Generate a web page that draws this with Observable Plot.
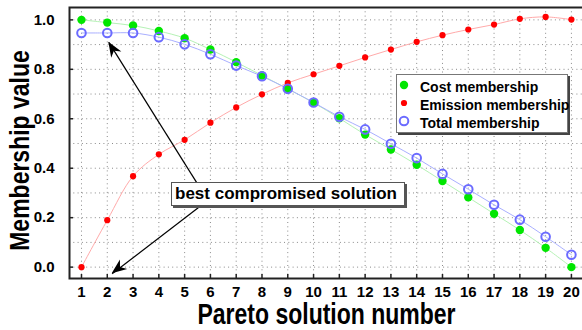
<!DOCTYPE html>
<html>
<head>
<meta charset="utf-8">
<script src="https://cdn.jsdelivr.net/npm/d3@7"></script>
<script src="https://cdn.jsdelivr.net/npm/@observablehq/plot@0.6"></script>
<style>
  body { margin: 0; background: #fff; font-family: "Liberation Sans", Arial, sans-serif; }
  #chart { position: relative; width: 582px; height: 330px; overflow: hidden; }
  #chart svg { position: absolute; left: 0; top: 0; }
  .legend { position: absolute; left: 396px; top: 74px; width: 170px; height: 57px;
            border: 1px solid #777; box-shadow: 2px 2px 0 #444; background: #fff;
            font-weight: bold; font-size: 14px; color: #000; }
  .legend .row { position: absolute; left: 0; height: 18px; line-height: 18px; white-space: nowrap; }
  .legend svg { position: absolute; left: 3px; top: 2px; }
  .legend span { position: absolute; left: 23px; top: 0; }
  .note { position: absolute; left: 171px; top: 182px; width: 229px; height: 22px;
          border: 1px solid #555; box-shadow: 2px 2px 0 #555; background: #fff;
          font-weight: bold; font-size: 17px; line-height: 22px; padding-left: 3px; box-sizing: content-box; }
</style>
</head>
<body>
<div id="chart"></div>
<script>
// Pareto solutions and their membership values
const solution = [1, 2, 3, 4, 5, 6, 7, 8, 9, 10, 11, 12, 13, 14, 15, 16, 17, 18, 19, 20];
const costMembership = [1.000, 0.989, 0.977, 0.955, 0.926, 0.880, 0.829, 0.775, 0.721, 0.665,
                        0.602, 0.536, 0.476, 0.414, 0.348, 0.282, 0.216, 0.150, 0.078, 0.000];
const emissionMembership = [0.000, 0.190, 0.368, 0.456, 0.515, 0.584, 0.646, 0.699, 0.745, 0.780,
                            0.814, 0.848, 0.880, 0.911, 0.938, 0.961, 0.981, 1.004, 1.012, 1.001];
const totalMembership = [0.947, 0.947, 0.947, 0.930, 0.901, 0.861, 0.815, 0.772, 0.721, 0.666,
                         0.608, 0.557, 0.499, 0.441, 0.377, 0.315, 0.252, 0.192, 0.123, 0.050];

const xTicks = solution;
const yTicks = [0, 0.2, 0.4, 0.6, 0.8, 1.0];
const yGrid = [0, 0.1, 0.2, 0.3, 0.4, 0.5, 0.6, 0.7, 0.8, 0.9, 1.0];

// Annotation arrows: from the label box towards solution 2
const arrowFromX = [5.48, 5.59];
const arrowFromY = [0.340, 0.245];
const arrowToX = [2.06, 2.19];
const arrowToY = [0.909, -0.027];

const rows = solution.map((s, i) => ({
  s, cost: costMembership[i], emission: emissionMembership[i], total: totalMembership[i]
}));
const arrows = arrowFromX.map((_, i) => ({x1: arrowFromX[i], y1: arrowFromY[i], x2: arrowToX[i], y2: arrowToY[i]}));

const font = "Liberation Sans, Arial, sans-serif";
const dotted = {stroke: "#8a8a8a", strokeOpacity: 1, strokeWidth: 1, strokeDasharray: "1,3.3"};

const plot = Plot.plot({
  width: 582,
  height: 330,
  marginTop: 7,
  marginBottom: 52,
  marginLeft: 69,
  marginRight: 0,
  style: {fontFamily: font, background: "transparent", overflow: "visible"},
  x: {domain: [0.535, 20.43]},
  y: {domain: [-0.046, 1.05]},
  marks: [
    Plot.gridX(xTicks, {...dotted}),
    Plot.gridY(yGrid, {...dotted}),
    // smooth connecting curves
    Plot.line(rows, {x: "s", y: "emission", stroke: "#ffaaaa", strokeWidth: 1, curve: "catmull-rom"}),
    Plot.line(rows, {x: "s", y: "cost", stroke: "#b5f2b5", strokeWidth: 1, curve: "catmull-rom"}),
    Plot.line(rows, {x: "s", y: "total", stroke: "#a9afff", strokeWidth: 1, curve: "catmull-rom"}),
    Plot.dot(rows, {x: "s", y: "cost", r: 4.2, fill: "#00e600", stroke: "none"}),
    Plot.dot(rows, {x: "s", y: "emission", r: 3.1, fill: "#ff0000", stroke: "none"}),
    Plot.dot(rows, {x: "s", y: "total", r: 4.3, fill: "none", stroke: "#6b6bff", strokeWidth: 2}),
    // annotation arrow shafts
    Plot.link(arrows, {x1: "x1", y1: "y1", x2: "x2", y2: "y2", stroke: "#000", strokeWidth: 1.2}),
    // plot frame
    Plot.frame({stroke: "#222", strokeWidth: 2, insetRight: -4}),
    // inward tick marks
    Plot.axisX(xTicks, {tickSize: 4, dy: -4, tickFormat: () => "", stroke: "#222", strokeWidth: 1.5}),
    Plot.axisY(yTicks, {tickSize: 4, dx: 4, tickFormat: () => "", stroke: "#222", strokeWidth: 1.5}),
    // tick labels
    Plot.axisX(xTicks, {tickSize: 0, tickPadding: 8, fontSize: 15, fontWeight: "bold", fill: "#000", label: null}),
    Plot.axisY(yTicks, {tickSize: 0, tickPadding: 15, fontSize: 15, fontWeight: "bold", fill: "#000",
                        tickFormat: d3.format(".1f"), label: null})
  ]
});

const svg = d3.select(plot);
const sx = plot.scale("x"), sy = plot.scale("y");

// Filled barbed arrowheads at the tips of the annotation arrows
const heads = svg.append("g").attr("fill", "#000");
arrows.forEach(a => {
  const x1 = sx.apply(a.x1), y1 = sy.apply(a.y1), x2 = sx.apply(a.x2), y2 = sy.apply(a.y2);
  const ang = Math.atan2(y2 - y1, x2 - x1) * 180 / Math.PI;
  heads.append("path")
    .attr("d", "M0,0L-15,-6L-10.5,0L-15,6Z")
    .attr("transform", `translate(${x2},${y2}) rotate(${ang})`);
});

// Axis titles (slightly condensed look: stretched across the reading direction)
const frameMidX = (sx.range[0] + sx.range[1]) / 2;
const frameMidY = (sy.range[0] + sy.range[1]) / 2;
svg.append("text")
  .attr("transform", `translate(${frameMidX + 1},324) scale(1,1.28)`)
  .attr("text-anchor", "middle")
  .attr("font-family", font).attr("font-size", 23).attr("font-weight", "bold").attr("fill", "#000")
  .text("Pareto solution number");
svg.append("text")
  .attr("transform", `translate(29,${frameMidY + 8}) rotate(-90) scale(1,1.22)`)
  .attr("text-anchor", "middle")
  .attr("font-family", font).attr("font-size", 23).attr("font-weight", "bold").attr("fill", "#000")
  .text("Membership value");

const chart = document.getElementById("chart");
chart.appendChild(plot);

// Legend inside the plot area
const legendItems = [
  {label: "Cost membership", kind: "cost"},
  {label: "Emission membership", kind: "emission"},
  {label: "Total membership", kind: "total"}
];
const legend = document.createElement("div");
legend.className = "legend";
legendItems.forEach((item, i) => {
  const row = document.createElement("div");
  row.className = "row";
  row.style.top = (3 + i * 18) + "px";
  let sym;
  if (item.kind === "cost") sym = '<circle cx="7" cy="7" r="4.2" fill="#00e600"/>';
  else if (item.kind === "emission") sym = '<circle cx="7" cy="7" r="3.1" fill="#ff0000"/>';
  else sym = '<circle cx="7" cy="7" r="4.3" fill="none" stroke="#6b6bff" stroke-width="2"/>';
  row.innerHTML = `<svg width="14" height="14">${sym}</svg><span>${item.label}</span>`;
  legend.appendChild(row);
});
chart.appendChild(legend);

// Annotation label
const note = document.createElement("div");
note.className = "note";
note.textContent = "best compromised solution";
chart.appendChild(note);
</script>
</body>
</html>
